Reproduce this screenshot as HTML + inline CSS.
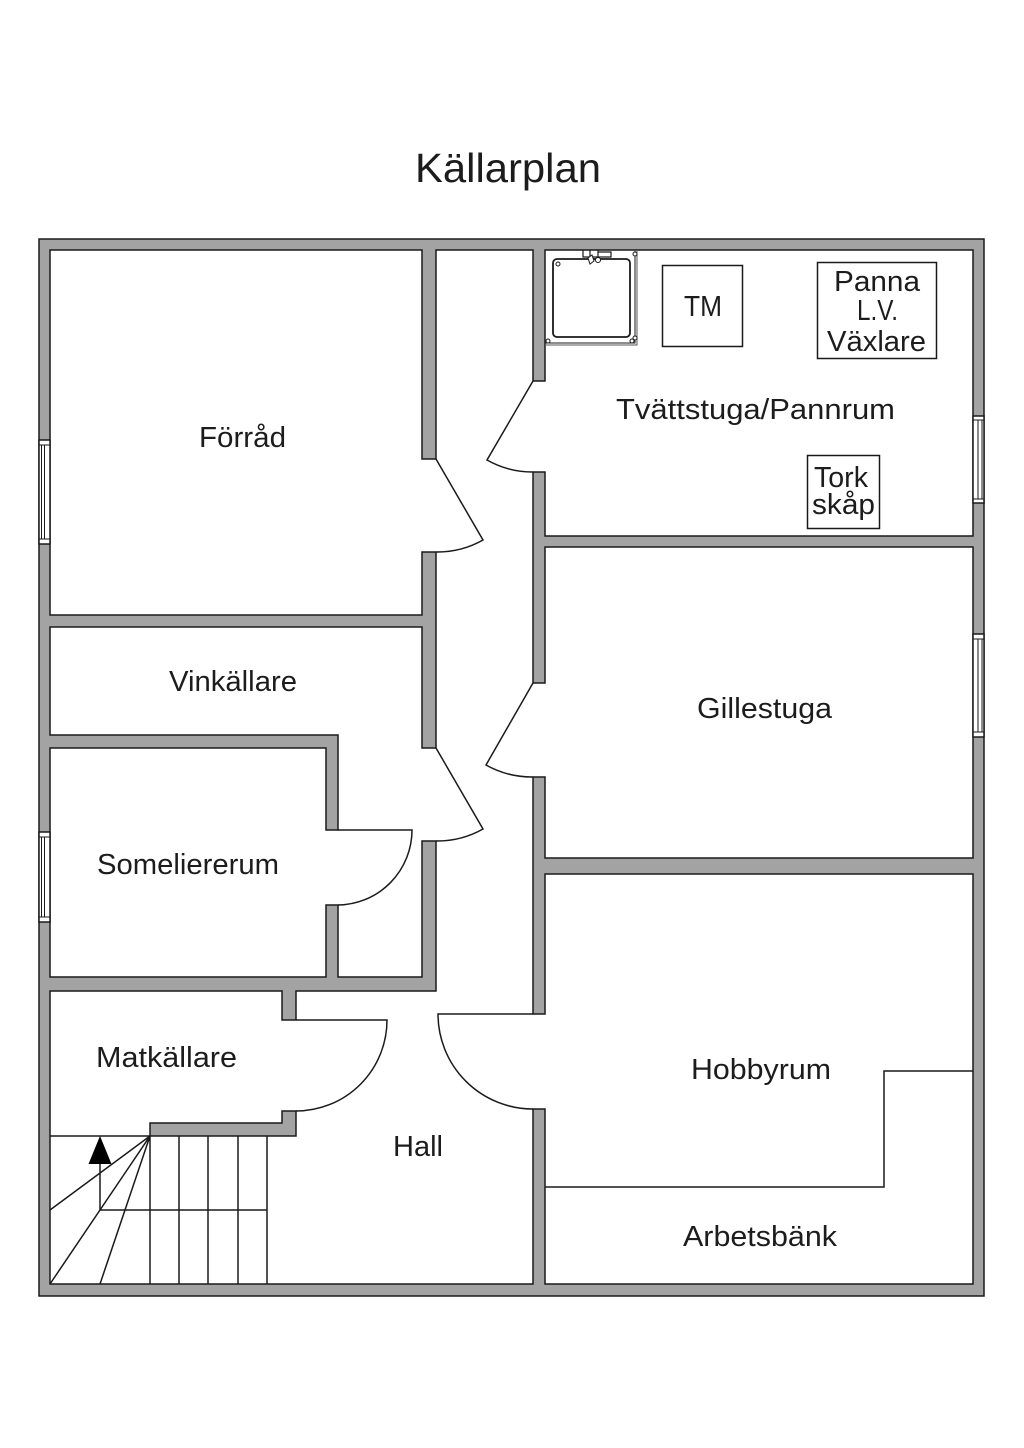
<!DOCTYPE html>
<html><head><meta charset="utf-8">
<style>
html,body{margin:0;padding:0;background:#fff}
svg{display:block}
text{font-family:"Liberation Sans",sans-serif;fill:#1c1c1c;font-size:29px}
.l{fill:none;stroke:#1a1a1a;stroke-width:1.5}
.w{fill:#a3a3a3;stroke:#1a1a1a;stroke-width:1.5}
.win{fill:#fff;stroke:#1a1a1a;stroke-width:1.5}
.wi{fill:none;stroke:#1a1a1a;stroke-width:1}
</style></head><body>
<svg width="1024" height="1448" viewBox="0 0 1024 1448" xmlns="http://www.w3.org/2000/svg">
<rect width="1024" height="1448" fill="#fff"/>
<path class="w" fill-rule="evenodd" d="M39 239H984V1296H39Z
M50 250H422V459H436V250H533V381H545V250H973V536H545V472H533V683H545V547H973V858H545V777H533V1014H545V874H973V1284H545V1109H533V1284H50V991H282V1020H296V991H436V841H422V977H338V905H326V977H50V748H326V830H338V735H50V627H422V748H436V552H422V615H50Z"/>
<path class="w" d="M150 1123H282V1111H296V1136H150Z"/>

<!-- windows -->
<g>
<rect class="win" x="39" y="440" width="11" height="104"/><path class="wi" d="M39 445H50M39 539H50M41.5 445V539M44.5 445V539"/>
<rect class="win" x="39" y="832" width="11" height="90"/><path class="wi" d="M39 837H50M39 917H50M41.5 837V917M44.5 837V917"/>
<rect class="win" x="973" y="416" width="11" height="87"/><path class="wi" d="M973 420H984M973 499H984M978 420V499M982 420V499"/>
<rect class="win" x="973" y="634" width="11" height="103"/><path class="wi" d="M973 639H984M973 732H984M978 639V732M982 639V732"/>
</g>

<!-- doors -->
<path class="l" d="M436 459L483 540A93 93 0 0 1 436 552"/>
<path class="l" d="M533 381L487 460A93 93 0 0 0 533 472"/>
<path class="l" d="M533 683L486 765A94 94 0 0 0 533 777"/>
<path class="l" d="M436 748L483 829A93 93 0 0 1 436 841"/>
<path class="l" d="M338 830H412A75 75 0 0 1 338 905"/>
<path class="l" d="M296 1020H387A91 91 0 0 1 296 1111"/>
<path class="l" d="M533 1014H438A95 95 0 0 0 533 1109"/>

<!-- hobby line -->
<path class="l" d="M545 1187H884V1071H973"/>

<!-- stairs -->
<path class="l" d="M50 1136H150M150 1136V1284M179 1136V1284M208 1136V1284M238 1136V1284M267 1136V1284M100 1210H267M100 1210V1160M150 1136L50 1210M150 1136L50 1284M150 1136L100 1284"/>
<path d="M100 1136L111.500 1164H88.500Z" fill="#000"/>

<!-- appliances -->
<rect class="l" x="662.500" y="265.500" width="80" height="81"/>
<rect class="l" x="817.500" y="262.500" width="119" height="96"/>
<rect class="l" x="807.500" y="455.500" width="72" height="73"/>
<g>
<rect x="553" y="259" width="77" height="78" rx="4" fill="none" stroke="#1a1a1a" stroke-width="1.800"/>
<path d="M635 251V343H545" fill="none" stroke="#1a1a1a" stroke-width="1"/>
<path d="M637 251V345H545" fill="none" stroke="#555" stroke-width="1"/>
<circle cx="558" cy="264" r="2" fill="#fff" stroke="#1a1a1a"/>
<circle cx="635" cy="254" r="2" fill="#fff" stroke="#1a1a1a"/>
<circle cx="635" cy="338" r="2" fill="#fff" stroke="#1a1a1a"/>
<circle cx="632" cy="341" r="2" fill="#fff" stroke="#1a1a1a"/>
<circle cx="548" cy="341" r="2" fill="#fff" stroke="#1a1a1a"/>
<path d="M583 250V257H611V252H598V250M590 250V256M598 252V258" fill="none" stroke="#1a1a1a" stroke-width="1.200"/>
<path d="M588 258L592 255L594 261L590 264Z" fill="#fff" stroke="#1a1a1a"/>
<circle cx="598" cy="260" r="2.500" fill="#fff" stroke="#1a1a1a"/>
</g>

<!-- labels -->
<text x="415" y="182" textLength="186" lengthAdjust="spacingAndGlyphs" style="font-size:41px">Källarplan</text>
<text x="199" y="447" textLength="87" lengthAdjust="spacingAndGlyphs">Förråd</text>
<text x="169" y="691" textLength="128" lengthAdjust="spacingAndGlyphs">Vinkällare</text>
<text x="97" y="874" textLength="182" lengthAdjust="spacingAndGlyphs">Someliererum</text>
<text x="96" y="1067" textLength="141" lengthAdjust="spacingAndGlyphs">Matkällare</text>
<text x="393" y="1156" textLength="50" lengthAdjust="spacingAndGlyphs">Hall</text>
<text x="616" y="419" textLength="279" lengthAdjust="spacingAndGlyphs">Tvättstuga/Pannrum</text>
<text x="697" y="718" textLength="135" lengthAdjust="spacingAndGlyphs">Gillestuga</text>
<text x="691" y="1079" textLength="140" lengthAdjust="spacingAndGlyphs">Hobbyrum</text>
<text x="683" y="1246" textLength="154" lengthAdjust="spacingAndGlyphs">Arbetsbänk</text>
<text x="684" y="316" textLength="38" lengthAdjust="spacingAndGlyphs">TM</text>
<text x="834" y="291" textLength="86" lengthAdjust="spacingAndGlyphs">Panna</text>
<text x="857" y="320" textLength="41" lengthAdjust="spacingAndGlyphs">L.V.</text>
<text x="827" y="351" textLength="99" lengthAdjust="spacingAndGlyphs">Växlare</text>
<text x="814" y="487" textLength="54" lengthAdjust="spacingAndGlyphs">Tork</text>
<text x="812" y="514" textLength="63" lengthAdjust="spacingAndGlyphs">skåp</text>
</svg>
</body></html>
